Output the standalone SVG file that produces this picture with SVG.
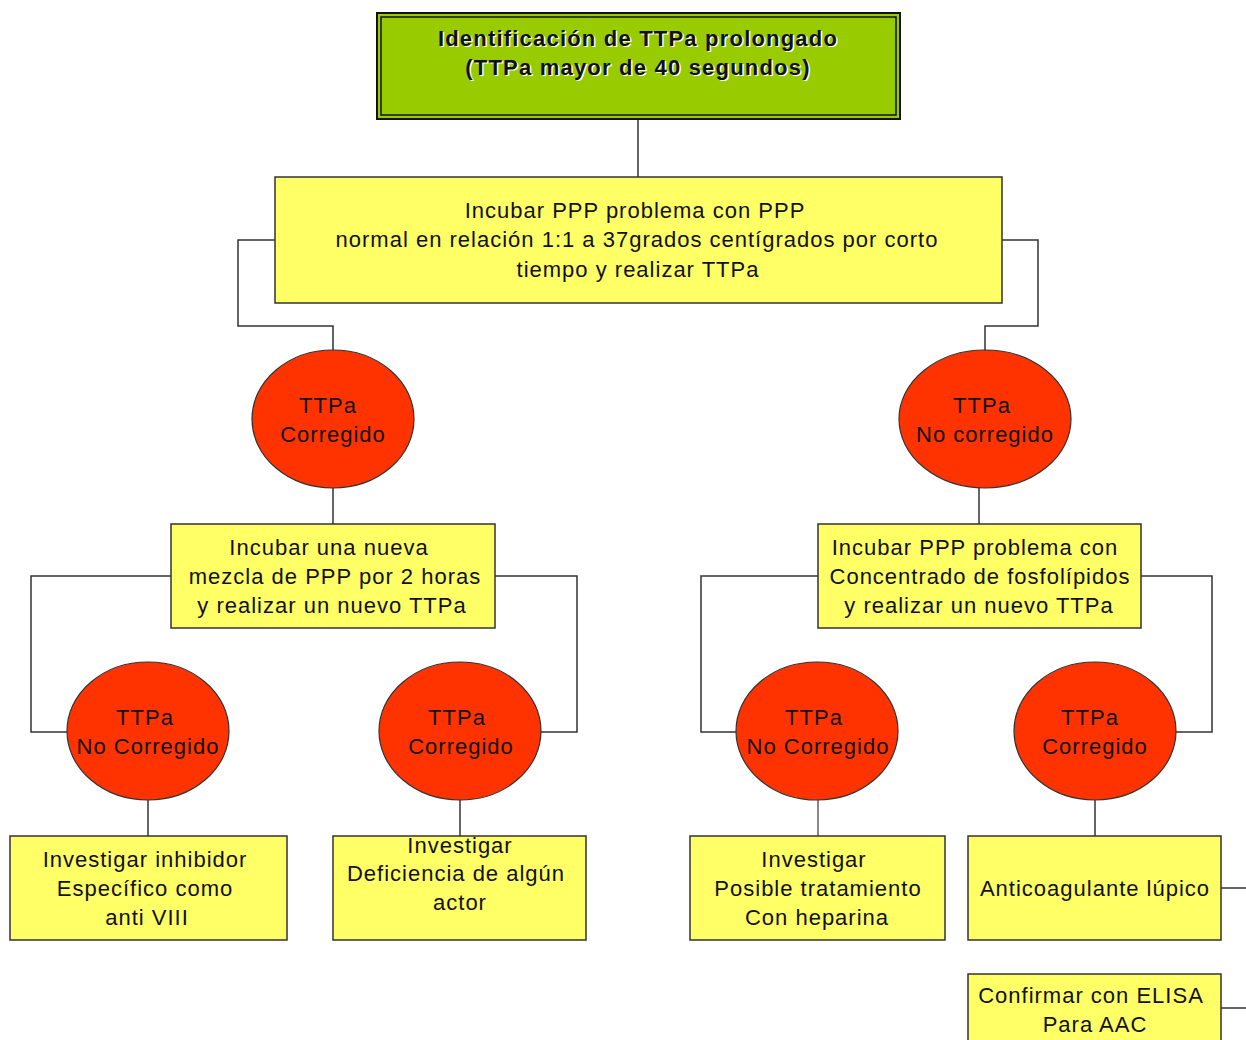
<svg xmlns="http://www.w3.org/2000/svg" width="1246" height="1040" viewBox="0 0 1246 1040">
<style>
.box{fill:#FFFF66;stroke:#333;stroke-width:1.5}
.ell{fill:#FF3300;stroke:#333;stroke-width:1.2}
.t{font-family:"Liberation Sans",Arial,sans-serif;font-size:22px;letter-spacing:1px;fill:#111;text-anchor:middle;dominant-baseline:central}
.h{font-family:"Liberation Sans",Arial,sans-serif;font-size:22px;letter-spacing:1.2px;font-weight:bold;text-anchor:middle;dominant-baseline:central}
.c{fill:none;stroke:#333;stroke-width:1.5}
</style>
<rect width="1246" height="1040" fill="#fff"/>
<g id="connectors">
<path class="c" d="M638 120V178"/>
<path class="c" d="M275 240H238V326H333V350"/>
<path class="c" d="M1002 240H1038V326H985V350"/>
<path class="c" d="M333 488V524"/>
<path class="c" d="M979 488V524"/>
<path class="c" d="M171 576H31V732H68"/>
<path class="c" d="M495 576H577V732H541"/>
<path class="c" d="M818 576H701V732H737"/>
<path class="c" d="M1141 576H1212V732H1176"/>
<path class="c" d="M148 800V836"/>
<path class="c" d="M460 800V836"/>
<path class="c" d="M818 800V836" style="stroke:#888;stroke-width:2"/>
<path class="c" d="M1095 800V836"/>
<path class="c" d="M1221 888H1246"/>
<path class="c" d="M1221 1008H1246"/>
</g>
<g id="n-top">
<rect x="377" y="13" width="523" height="106" fill="#99CC00" stroke="#111" stroke-width="2"/>
<rect x="381" y="17" width="515" height="98" fill="none" stroke="#111" stroke-width="1.5"/>
<text class="h" x="639.5" y="39.5" fill="#fff">Identificación de TTPa prolongado</text>
<text class="h" x="639.5" y="68.5" fill="#fff">(TTPa mayor de 40 segundos)</text>
<text class="h" x="638" y="38" fill="#111">Identificación de TTPa prolongado</text>
<text class="h" x="638" y="67" fill="#111">(TTPa mayor de 40 segundos)</text>
</g>
<g id="n-incubar">
<rect class="box" x="275" y="177" width="727" height="126"/>
<text class="t" x="635" y="210">Incubar PPP problema con PPP</text>
<text class="t" x="637" y="239">normal en relación 1:1 a 37grados centígrados por corto</text>
<text class="t" x="638" y="269">tiempo y realizar TTPa</text>
</g>
<g id="n-corr">
<ellipse class="ell" cx="333" cy="419" rx="81" ry="69"/>
<text class="t" x="328" y="405">TTPa</text>
<text class="t" x="333" y="434">Corregido</text>
</g>
<g id="n-nocorr">
<ellipse class="ell" cx="985" cy="419" rx="86" ry="69"/>
<text class="t" x="982" y="405">TTPa</text>
<text class="t" x="985" y="434">No corregido</text>
</g>
<g id="n-mezcla">
<rect class="box" x="171" y="524" width="324" height="104"/>
<text class="t" x="329" y="547">Incubar una nueva</text>
<text class="t" x="335" y="576">mezcla de PPP por 2 horas</text>
<text class="t" x="332" y="605">y realizar un nuevo TTPa</text>
</g>
<g id="n-fosfo">
<rect class="box" x="818" y="524" width="323" height="104"/>
<text class="t" x="975" y="547">Incubar PPP problema con</text>
<text class="t" x="980" y="576">Concentrado de fosfolípidos</text>
<text class="t" x="979" y="605">y realizar un nuevo TTPa</text>
</g>
<g id="n-ll">
<ellipse class="ell" cx="148" cy="731" rx="81" ry="69"/>
<text class="t" x="145" y="717">TTPa</text>
<text class="t" x="148" y="746">No Corregido</text>
</g>
<g id="n-lr">
<ellipse class="ell" cx="460" cy="731" rx="81" ry="69"/>
<text class="t" x="457" y="717">TTPa</text>
<text class="t" x="461" y="746">Corregido</text>
</g>
<g id="n-rl">
<ellipse class="ell" cx="817" cy="731" rx="81" ry="69"/>
<text class="t" x="814" y="717">TTPa</text>
<text class="t" x="818" y="746">No Corregido</text>
</g>
<g id="n-rr">
<ellipse class="ell" cx="1095" cy="731" rx="81" ry="69"/>
<text class="t" x="1090" y="717">TTPa</text>
<text class="t" x="1095" y="746">Corregido</text>
</g>
<g id="n-inhib">
<rect class="box" x="10" y="836" width="277" height="104"/>
<text class="t" x="145" y="859">Investigar inhibidor</text>
<text class="t" x="145" y="888">Específico como</text>
<text class="t" x="147" y="917">anti VIII</text>
</g>
<g id="n-defic">
<rect class="box" x="333" y="836" width="253" height="104"/>
<text class="t" x="460" y="845">Investigar</text>
<text class="t" x="456" y="873">Deficiencia de algún</text>
<text class="t" x="460" y="902">actor</text>
</g>
<g id="n-hepar">
<rect class="box" x="690" y="836" width="255" height="104"/>
<text class="t" x="814" y="859">Investigar</text>
<text class="t" x="818" y="888">Posible tratamiento</text>
<text class="t" x="817" y="917">Con heparina</text>
</g>
<g id="n-lupico">
<rect class="box" x="968" y="836" width="253" height="104"/>
<text class="t" x="1095" y="888">Anticoagulante lúpico</text>
</g>
<g id="n-elisa">
<rect class="box" x="968" y="974" width="253" height="80"/>
<text class="t" x="1091" y="995">Confirmar con ELISA</text>
<text class="t" x="1095" y="1024">Para AAC</text>
</g>
</svg>
